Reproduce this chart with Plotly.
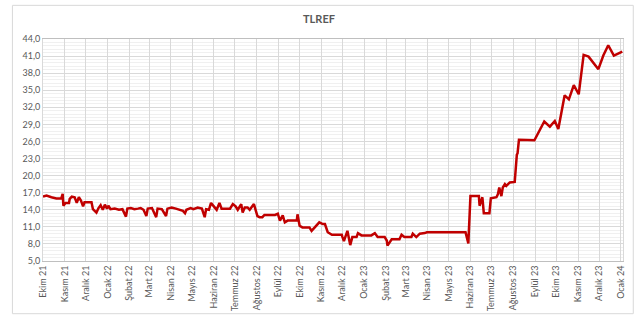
import plotly.graph_objects as go

dates = [
    "2021-10-01", "2021-10-06", "2021-10-13", "2021-10-20", "2021-10-27", "2021-10-29", "2021-10-30",
    "2021-11-02", "2021-11-07", "2021-11-08", "2021-11-11", "2021-11-15", "2021-11-18", "2021-11-21",
    "2021-11-24", "2021-11-27", "2021-11-29", "2021-12-04", "2021-12-09", "2021-12-11", "2021-12-16",
    "2021-12-19", "2021-12-22", "2021-12-25", "2021-12-28", "2021-12-31", "2022-01-02", "2022-01-05",
    "2022-01-11", "2022-01-17", "2022-01-22", "2022-01-27", "2022-01-29", "2022-02-03", "2022-02-08",
    "2022-02-13", "2022-02-17", "2022-02-21", "2022-02-25", "2022-02-27", "2022-03-05", "2022-03-11",
    "2022-03-13", "2022-03-19", "2022-03-25", "2022-03-27", "2022-04-02", "2022-04-08", "2022-04-13",
    "2022-04-18", "2022-04-21", "2022-04-23", "2022-04-29", "2022-05-03", "2022-05-09", "2022-05-15",
    "2022-05-19", "2022-05-21", "2022-05-25", "2022-05-28", "2022-06-01", "2022-06-05", "2022-06-09",
    "2022-06-12", "2022-06-18", "2022-06-24", "2022-06-28", "2022-07-02", "2022-07-05", "2022-07-10",
    "2022-07-12", "2022-07-15", "2022-07-19", "2022-07-22", "2022-07-28", "2022-07-31", "2022-08-02",
    "2022-08-05", "2022-08-09", "2022-08-12", "2022-08-19", "2022-08-27", "2022-08-31", "2022-09-03",
    "2022-09-07", "2022-09-10", "2022-09-14", "2022-09-21", "2022-09-27", "2022-09-28", "2022-10-01",
    "2022-10-05", "2022-10-11", "2022-10-15", "2022-10-18", "2022-10-22", "2022-10-27", "2022-10-29",
    "2022-11-03", "2022-11-06", "2022-11-10", "2022-11-16", "2022-11-23", "2022-11-30", "2022-12-01",
    "2022-12-03", "2022-12-08", "2022-12-12", "2022-12-15", "2022-12-21", "2022-12-23", "2022-12-28",
    "2023-01-04", "2023-01-11", "2023-01-16", "2023-01-20", "2023-01-26", "2023-01-30", "2023-02-02",
    "2023-02-03", "2023-02-09", "2023-02-15", "2023-02-20", "2023-02-23", "2023-02-27", "2023-03-05",
    "2023-03-09", "2023-03-11", "2023-03-16", "2023-03-21", "2023-03-25", "2023-03-28", "2023-03-31",
    "2023-05-25", "2023-05-29", "2023-06-01", "2023-06-08", "2023-06-13", "2023-06-14", "2023-06-17",
    "2023-06-18", "2023-06-20", "2023-06-28", "2023-06-30", "2023-07-08", "2023-07-10", "2023-07-12",
    "2023-07-15", "2023-07-17", "2023-07-20", "2023-07-22", "2023-07-27", "2023-08-03", "2023-08-06",
    "2023-08-07", "2023-08-09", "2023-08-31", "2023-09-14", "2023-09-22", "2023-09-29", "2023-10-04",
    "2023-10-13", "2023-10-19", "2023-10-26", "2023-11-02", "2023-11-09", "2023-11-16", "2023-11-30",
    "2023-12-07", "2023-12-14", "2023-12-22", "2024-01-03",
]

tlref = [
    16.3, 16.5, 16.2, 16.0, 16.0, 16.8, 14.7,
    15.2, 15.2, 15.9, 16.3, 16.2, 15.2, 16.2,
    15.6, 14.6, 15.3, 15.3, 15.3, 14.1, 13.5,
    14.3, 14.8, 14.0, 14.9, 14.2, 14.7, 14.1,
    14.2, 14.0, 14.1, 12.8, 14.2, 14.3, 14.1,
    14.2, 14.3, 14.0, 12.9, 14.2, 14.3, 12.7,
    14.2, 14.1, 12.9, 14.2, 14.4, 14.2, 14.0,
    13.8, 13.4, 14.0, 14.3, 14.1, 14.4, 14.2,
    12.7, 14.1, 14.0, 15.2, 14.6, 14.0, 15.2,
    14.2, 14.2, 14.2, 15.0, 14.6, 14.0, 15.0,
    13.5, 14.4, 14.4, 14.0, 15.0, 13.5, 12.9,
    12.7, 12.7, 13.1, 13.1, 13.1, 13.3, 12.1,
    13.0, 11.8, 12.1, 12.1, 12.1, 13.2, 11.2,
    10.9, 10.9, 10.9, 10.3, 10.9, 11.7, 11.8,
    11.5, 11.5, 10.05, 9.6, 9.6, 9.6, 9.2,
    8.5, 10.3, 7.8, 9.2, 9.2, 9.9, 9.5,
    9.5, 9.5, 9.9, 9.2, 9.2, 9.2, 8.6,
    7.7, 8.8, 8.8, 8.8, 9.6, 9.2, 9.2,
    9.2, 9.8, 9.2, 9.8, 9.8, 9.9, 10.05,
    10.05, 8.1, 16.4, 16.4, 16.4, 14.7, 16.2,
    16.2, 13.4, 13.4, 16.0, 16.2, 16.7, 17.9,
    16.4, 17.9, 18.5, 18.2, 18.8, 18.9, 23.7,
    23.9, 26.3, 26.2, 29.5, 28.6, 29.6, 28.2,
    34.1, 33.4, 35.9, 34.3, 41.2, 40.9, 38.7,
    41.1, 42.9, 41.1, 41.8,
]

month_ticks = [
    "2021-10-01", "2021-11-01", "2021-12-01", "2022-01-01", "2022-02-01", "2022-03-01", "2022-04-01",
    "2022-05-01", "2022-06-01", "2022-07-01", "2022-08-01", "2022-09-01", "2022-10-01", "2022-11-01",
    "2022-12-01", "2023-01-01", "2023-02-01", "2023-03-01", "2023-04-01", "2023-05-01", "2023-06-01",
    "2023-07-01", "2023-08-01", "2023-09-01", "2023-10-01", "2023-11-01", "2023-12-01", "2024-01-01",
]
month_labels = [
    "Ekim 21", "Kasım 21", "Aralık 21", "Ocak 22", "Şubat 22", "Mart 22", "Nisan 22",
    "Mayıs 22", "Haziran 22", "Temmuz 22", "Ağustos 22", "Eylül 22", "Ekim 22", "Kasım 22",
    "Aralık 22", "Ocak 23", "Şubat 23", "Mart 23", "Nisan 23", "Mayıs 23", "Haziran 23",
    "Temmuz 23", "Ağustos 23", "Eylül 23", "Ekim 23", "Kasım 23", "Aralık 23", "Ocak 24",
]

FONT = "Lato, 'Open Sans', sans-serif"

fig = go.Figure()
fig.add_trace(go.Scatter(
    x=dates, y=tlref, mode="lines",
    line=dict(color="#C00000", width=2.5),
    showlegend=False, hoverinfo="x+y",
))

fig.update_layout(
    width=638, height=323,
    margin=dict(l=43, r=14, t=39, b=56),
    paper_bgcolor="white", plot_bgcolor="white",
    separators=",.",
    title=dict(text="<b>TLREF</b>", x=0.5, xanchor="center", y=0.94, yanchor="middle",
               font=dict(family=FONT, size=11, color="#595959")),
    font=dict(family=FONT, size=9, color="#595959"),
)
fig.update_xaxes(
    type="date", range=["2021-10-01", "2024-01-04"],
    tickmode="array", tickvals=month_ticks, ticktext=month_labels,
    tickangle=-90, tickfont=dict(size=9, color="#595959"),
    showgrid=True, gridcolor="#d9d9d9", gridwidth=1,
    showline=True, linecolor="#bfbfbf", linewidth=1, mirror=True,
    ticks="", zeroline=False,
)
fig.update_yaxes(
    range=[5, 44], tick0=5, dtick=3, tickformat=".1f",
    tickfont=dict(size=9, color="#595959"),
    showgrid=True, gridcolor="#d9d9d9", gridwidth=1,
    minor=dict(tick0=5, dtick=0.6, showgrid=True, gridcolor="#f0f0f0", gridwidth=1),
    showline=True, linecolor="#d9d9d9", linewidth=1, mirror=True,
    ticks="", zeroline=False,
)
fig.add_shape(type="rect", xref="paper", yref="paper",
              x0=-0.0527, x1=1.0177, y0=-0.2374, y1=1.1516,
              line=dict(color="#d9d9d9", width=1), fillcolor="rgba(0,0,0,0)", layer="below")

fig.write_html("out.html")
